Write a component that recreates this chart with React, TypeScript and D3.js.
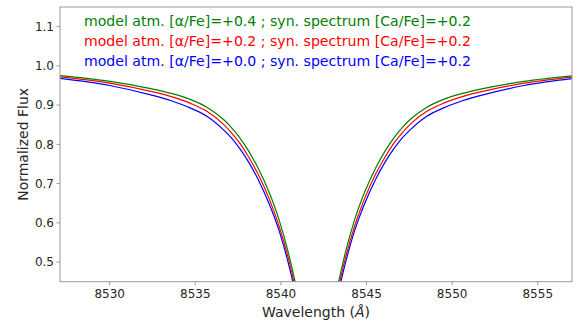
import React from 'react';
import * as d3 from 'd3';

const wavelengths = [
  8527.1, 8530.0, 8532.4, 8533.6, 8534.7, 8535.7, 8536.65, 8537.1, 8537.6, 8538.1, 8538.65, 8539.3,
  8539.9, 8540.4, 8540.83, 8541.1, 8541.6, 8542.1, 8542.6, 8543.1, 8543.37, 8543.8, 8544.3, 8544.9,
  8545.55, 8546.1, 8546.6, 8547.1, 8547.55, 8548.5, 8549.5, 8550.6, 8551.8, 8554.2, 8557.1,
];

const fluxAlpha04 = [
  0.9751, 0.9606, 0.942, 0.9297, 0.9146, 0.8941, 0.8632, 0.8434, 0.8166, 0.784, 0.741, 0.679,
  0.607, 0.53, 0.45, 0.395, 0.31, 0.28, 0.31, 0.395, 0.45, 0.53, 0.607, 0.679,
  0.741, 0.784, 0.8166, 0.8434, 0.8632, 0.8941, 0.9146, 0.9297, 0.942, 0.9606, 0.9751,
];
const fluxAlpha02 = [
  0.972, 0.956, 0.935, 0.9216, 0.905, 0.8835, 0.851, 0.83, 0.803, 0.769, 0.7255, 0.663,
  0.591, 0.516, 0.437, 0.382, 0.296, 0.266, 0.296, 0.382, 0.437, 0.516, 0.591, 0.663,
  0.7255, 0.769, 0.803, 0.83, 0.851, 0.8835, 0.905, 0.9216, 0.935, 0.956, 0.972,
];
const fluxAlpha00 = [
  0.968, 0.95, 0.926, 0.911, 0.893, 0.871, 0.837, 0.817, 0.789, 0.756, 0.7125, 0.65,
  0.5795, 0.503, 0.424, 0.368, 0.282, 0.251, 0.282, 0.368, 0.424, 0.503, 0.5795, 0.65,
  0.7125, 0.756, 0.789, 0.817, 0.837, 0.871, 0.893, 0.911, 0.926, 0.95, 0.968,
];

const seriesLabels = [
  'model atm. [α/Fe]=+0.4 ; syn. spectrum [Ca/Fe]=+0.2',
  'model atm. [α/Fe]=+0.2 ; syn. spectrum [Ca/Fe]=+0.2',
  'model atm. [α/Fe]=+0.0 ; syn. spectrum [Ca/Fe]=+0.2',
];
const seriesColors = ['#008000', '#ff0000', '#0000ff'];
const xTicks = [8530, 8535, 8540, 8545, 8550, 8555];
const yTicks = [0.5, 0.6, 0.7, 0.8, 0.9, 1.0, 1.1];

const W = 579;
const H = 322;
const left = 60;
const right = 572;
const top = 7;
const bottom = 281.7;

const App: React.FC = () => {
  const x = d3.scaleLinear().domain([8527.1, 8557]).range([left, right]);
  const y = d3.scaleLinear().domain([0.45, 1.15]).range([bottom, top]);

  const line = d3
    .line<number>()
    .x((_, i) => x(wavelengths[i]))
    .y((d) => y(d))
    .curve(d3.curveMonotoneX);

  const series = [fluxAlpha04, fluxAlpha02, fluxAlpha00];
  const font = 'DejaVu Sans, sans-serif';
  const axisColor = '#999';
  const textColor = '#262626';

  return (
    <svg width={W} height={H} style={{ position: 'absolute', left: 0, top: 0 }} fontFamily={font}>
      <defs>
        <clipPath id="plot-clip">
          <rect x={left} y={top} width={right - left} height={bottom - top} />
        </clipPath>
      </defs>
      <rect width={W} height={H} fill="#fff" />

      {/* blue drawn first, green on top */}
      <g clipPath="url(#plot-clip)">
        {series
          .map((s, i) => (
            <path key={i} d={line(s) ?? ''} fill="none" stroke={seriesColors[i]} strokeWidth={1.2} />
          ))
          .reverse()}
      </g>

      <rect x={left} y={top} width={right - left} height={bottom - top} fill="none" stroke={axisColor} strokeWidth={1} />

      {xTicks.map((t) => (
        <g key={t} transform={`translate(${x(t)},${bottom})`}>
          <line y2={3.5} stroke={axisColor} />
          <text y={16} textAnchor="middle" fontSize={12} fill={textColor}>
            {t}
          </text>
        </g>
      ))}

      {yTicks.map((t) => (
        <g key={t} transform={`translate(${left},${y(t)})`}>
          <line x2={-3.5} stroke={axisColor} />
          <text x={-6} dy="0.35em" textAnchor="end" fontSize={12} fill={textColor}>
            {t.toFixed(1)}
          </text>
        </g>
      ))}

      <text x={316} y={317} textAnchor="middle" fontSize={14} fill={textColor}>
        Wavelength (<tspan fontStyle="italic">Å</tspan>)
      </text>
      <text
        transform={`translate(28,${(top + bottom) / 2}) rotate(-90)`}
        textAnchor="middle"
        fontSize={14}
        fill={textColor}
      >
        Normalized Flux
      </text>

      {seriesLabels.map((label, i) => (
        <text key={i} x={84} y={26 + i * 20} fontSize={14.1} fill={seriesColors[i]}>
          {label}
        </text>
      ))}
    </svg>
  );
};

export default App;
